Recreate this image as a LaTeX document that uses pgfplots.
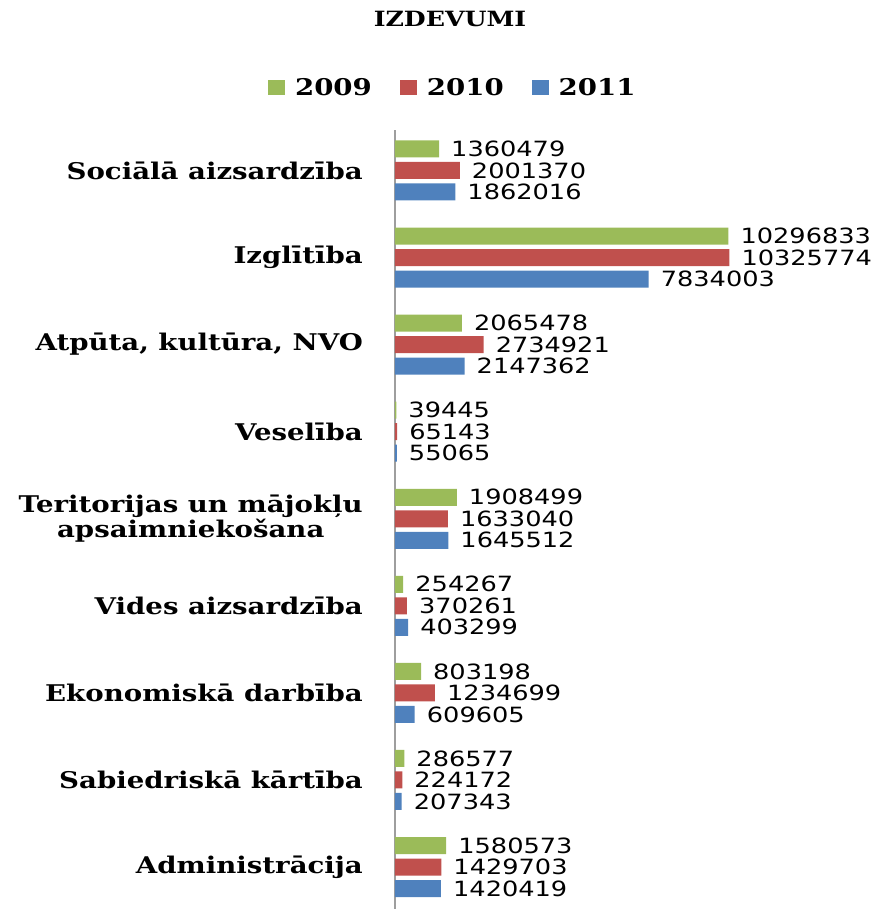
\documentclass[border=0pt]{standalone}
\usepackage{fontspec}
\usepackage{pgfplots}
\pgfplotsset{compat=1.18}
\newfontfamily\catfont{DejaVu Serif}[FakeStretch=1.2]
\newfontfamily\numfont{DejaVu Sans}[FakeStretch=1.22]
\definecolor{cgreen}{HTML}{9BBB59}
\definecolor{cred}{HTML}{C0504D}
\definecolor{cblue}{HTML}{4F81BD}
\begin{document}
\begin{tikzpicture}
\useasboundingbox (-395bp,0bp) rectangle (487bp,909bp);
\begin{axis}[
  at={(0,0)}, anchor=south west,
  scale only axis, width=485.7bp, height=779bp,
  xmin=0, xmax=15000000, ymin=-0.482, ymax=8.465,
  xbar, bar width=17bp,
  axis x line=none,
  axis y line*=left,
  y axis line style={draw=black!38, line width=1.5bp, -},
  ytick={0,1,2,3,4,5,6,7,8},
  yticklabels={Administrācija, Sabiedriskā kārtība, Ekonomiskā darbība, Vides aizsardzība, {Teritorijas un mājokļu\\apsaimniekošana}, Veselība, {Atpūta, kultūra, NVO}, Izglītība, Sociālā aizsardzība},
  major tick length=0pt,
  yticklabel style={font=\catfont\bfseries\fontsize{23bp}{23bp}\selectfont, align=center, inner sep=0pt, xshift=-32bp},
  point meta=explicit symbolic,
  nodes near coords,
  every node near coord/.append style={font=\numfont\fontsize{21bp}{20bp}\selectfont, anchor=west, inner sep=0pt, xshift=12bp},
  legend columns=3,
  legend style={draw=none, at={(axis description cs:0.119,1.054)}, anchor=center,
    font=\catfont\bfseries\fontsize{23bp}{23bp}\selectfont,
    nodes={inner sep=2bp},
    /tikz/every odd column/.append style={column sep=8bp},
    /tikz/every even column/.append style={column sep=26bp}},
  legend image code/.code={\draw[#1,draw=none] (0bp,-7.5bp) rectangle (17bp,7.5bp);},
]
\addplot[fill=cgreen, draw=none, bar shift=21.5bp] coordinates {
  (1580573,0) [1580573]
  (286577,1) [286577]
  (803198,2) [803198]
  (254267,3) [254267]
  (1908499,4) [1908499]
  (39445,5) [39445]
  (2065478,6) [2065478]
  (10296833,7) [10296833]
  (1360479,8) [1360479]
};
\addplot[fill=cred, draw=none, bar shift=0bp] coordinates {
  (1429703,0) [1429703]
  (224172,1) [224172]
  (1234699,2) [1234699]
  (370261,3) [370261]
  (1633040,4) [1633040]
  (65143,5) [65143]
  (2734921,6) [2734921]
  (10325774,7) [10325774]
  (2001370,8) [2001370]
};
\addplot[fill=cblue, draw=none, bar shift=-21.5bp] coordinates {
  (1420419,0) [1420419]
  (207343,1) [207343]
  (609605,2) [609605]
  (403299,3) [403299]
  (1645512,4) [1645512]
  (55065,5) [55065]
  (2147362,6) [2147362]
  (7834003,7) [7834003]
  (1862016,8) [1862016]
};
\legend{2009,2010,2011}
\end{axis}
\node[font=\catfont\bfseries\fontsize{21bp}{22bp}\selectfont] at (55bp,890bp) {IZDEVUMI};
\end{tikzpicture}
\end{document}
